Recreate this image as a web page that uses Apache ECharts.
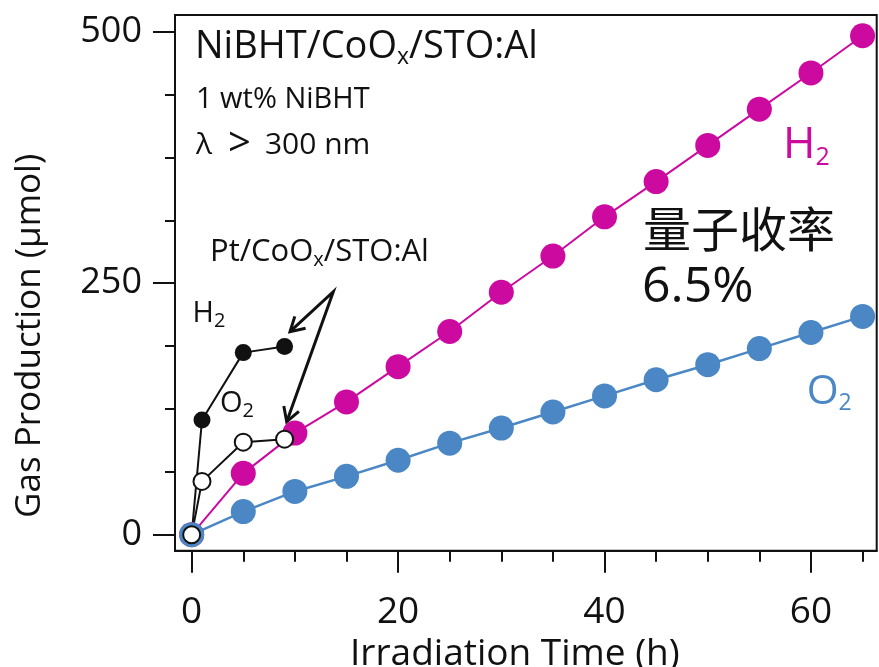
<!DOCTYPE html>
<html><head><meta charset="utf-8">
<script src="https://cdn.jsdelivr.net/npm/echarts@6/dist/echarts.min.js"></script>
<style>html,body{margin:0;padding:0;background:#fff}#c{width:879px;height:667px}</style>
</head><body><div id="c"></div>
<script>
// ---- data ----
const timeNi = [0, 5, 10, 15, 20, 25, 30, 35, 40, 45, 50, 55, 60, 65];
const h2Ni   = [0, 61, 101, 132, 167, 202, 241, 277, 316, 351, 387, 423, 459, 496];
const o2Ni   = [0, 23, 43, 58, 74, 91, 106, 122, 138, 154, 169, 185, 201, 217];
const timePt = [0, 1, 5, 9];
const h2Pt   = [0, 114, 181, 187];
const o2Pt   = [0, 53, 92, 95];
const xMajorTicks = [0, 20, 40, 60];
const xMinorTicks = [5, 10, 15, 25, 30, 35, 45, 50, 55, 65];
const yMajorTicks = [0, 250, 500];
const yMinorTicks = [62.5, 125, 187.5, 312.5, 375, 437.5];

const pairs = (xs, ys) => xs.map((x, i) => [x, ys[i]]);

const INK = '#111';
const MAG = '#cc0aa0';
const BLU = '#4a87c4';
const FONT = 'Open Sans';
const X_MIN = -1.615, X_MAX = 66.37, Y_MIN = -15.9, Y_MAX = 516.6;

const chart = echarts.init(document.getElementById('c'), null, {renderer: 'canvas'});
chart.setOption({
  animation: false,
  backgroundColor: '#fff',
  grid: {left: 175, right: 2.3, top: 15, bottom: 116.3, containLabel: false, outerBoundsMode: 'none',
         show: true, borderColor: INK, borderWidth: 2, backgroundColor: 'transparent'},
  xAxis: [{
    type: 'value', min: X_MIN, max: X_MAX, position: 'bottom',
    axisLine: {show: true, onZero: false, lineStyle: {color: INK, width: 2}},
    axisTick: {show: true, customValues: xMajorTicks, length: 22, lineStyle: {color: INK, width: 2}},
    axisLabel: {customValues: xMajorTicks, margin: 43, fontSize: 37, fontFamily: FONT, color: INK},
    splitLine: {show: false},
    name: 'Irradiation Time (h)', nameLocation: 'middle', nameGap: 76,
    nameTextStyle: {fontSize: 37, fontFamily: FONT, color: INK, padding: [0, 22, 0, 0]}
  }, {
    type: 'value', min: X_MIN, max: X_MAX, position: 'bottom',
    axisLine: {show: false, onZero: false},
    axisTick: {show: true, customValues: xMinorTicks, length: 11, lineStyle: {color: INK, width: 2}},
    axisLabel: {show: false}, splitLine: {show: false}
  }],
  yAxis: [{
    type: 'value', min: Y_MIN, max: Y_MAX, position: 'left',
    axisLine: {show: true, onZero: false, lineStyle: {color: INK, width: 2}},
    axisTick: {show: true, customValues: yMajorTicks, length: 22, lineStyle: {color: INK, width: 2}},
    axisLabel: {customValues: yMajorTicks, margin: 33, fontSize: 36, fontFamily: FONT, color: INK},
    splitLine: {show: false},
    name: 'Gas Production (μmol)', nameLocation: 'middle', nameGap: 127,
    nameTextStyle: {fontSize: 35, fontFamily: FONT, color: INK, padding: [0, 106, 0, 0]}
  }, {
    type: 'value', min: Y_MIN, max: Y_MAX, position: 'left',
    axisLine: {show: false, onZero: false},
    axisTick: {show: true, customValues: yMinorTicks, length: 10, lineStyle: {color: INK, width: 2}},
    axisLabel: {show: false}, splitLine: {show: false}
  }],
  series: [{
    name: 'H2 NiBHT', type: 'line', data: pairs(timeNi, h2Ni),
    symbol: 'circle', symbolSize: 25,
    lineStyle: {color: MAG, width: 2}, itemStyle: {color: MAG, borderWidth: 0}
  }, {
    name: 'O2 NiBHT', type: 'line', data: pairs(timeNi, o2Ni),
    symbol: 'circle', symbolSize: 25,
    lineStyle: {color: BLU, width: 2.5}, itemStyle: {color: BLU, borderWidth: 0}
  }, {
    name: 'H2 Pt', type: 'line', data: pairs(timePt, h2Pt),
    symbol: 'circle', symbolSize: 17,
    lineStyle: {color: INK, width: 2}, itemStyle: {color: INK, borderWidth: 0}
  }, {
    name: 'O2 Pt', type: 'line', data: pairs(timePt, o2Pt),
    symbol: 'circle', symbolSize: 17,
    lineStyle: {color: INK, width: 2}, itemStyle: {color: '#fff', borderColor: INK, borderWidth: 2}
  }],
  graphic: [
    {type: 'text', x: 195, y: 25, style: {
      text: 'NiBHT/CoO{sub|x}/STO:Al', fill: INK, fontSize: 38, fontFamily: FONT, lineHeight: 44,
      align: 'left', verticalAlign: 'top',
      rich: {sub: {fontSize: 23, fontFamily: FONT, fill: INK, lineHeight: 18, verticalAlign: 'bottom'}}}},
    {type: 'text', x: 196, y: 100, style: {text: '1 wt% NiBHT', fill: INK, fontSize: 29, fontFamily: FONT, align: 'left', verticalAlign: 'middle'}},
    {type: 'text', x: 196, y: 145, style: {
      text: 'λ{g|>}300 nm', fill: INK, fontSize: 30, fontFamily: FONT, align: 'left', verticalAlign: 'middle',
      rich: {g: {fontSize: 40, fontFamily: FONT, fill: INK, padding: [0, 14, 0, 16]}}}},
    {type: 'text', x: 210, y: 235, style: {
      text: 'Pt/CoO{sub|x}/STO:Al', fill: INK, fontSize: 31, fontFamily: FONT, lineHeight: 35,
      align: 'left', verticalAlign: 'top',
      rich: {sub: {fontSize: 20, fontFamily: FONT, fill: INK, lineHeight: 14, verticalAlign: 'bottom'}}}},
    {type: 'text', x: 192.5, y: 297, style: {
      text: 'H{sub|2}', fill: INK, fontSize: 29, fontFamily: FONT, lineHeight: 34,
      align: 'left', verticalAlign: 'top',
      rich: {sub: {fontSize: 20, fontFamily: FONT, fill: INK, lineHeight: 12, verticalAlign: 'bottom'}}}},
    {type: 'text', x: 220, y: 387, style: {
      text: 'O{sub|2}', fill: INK, fontSize: 29, fontFamily: FONT, lineHeight: 34,
      align: 'left', verticalAlign: 'top',
      rich: {sub: {fontSize: 20, fontFamily: FONT, fill: INK, lineHeight: 12, verticalAlign: 'bottom'}}}},
    {type: 'text', x: 783, y: 120, style: {
      text: 'H{sub|2}', fill: MAG, fontSize: 44, fontFamily: FONT, lineHeight: 50,
      align: 'left', verticalAlign: 'top',
      rich: {sub: {fontSize: 25, fontFamily: FONT, fill: MAG, lineHeight: 15, verticalAlign: 'bottom'}}}},
    {type: 'text', x: 806.7, y: 369, style: {
      text: 'O{sub|2}', fill: BLU, fontSize: 41, fontFamily: FONT, lineHeight: 46,
      align: 'left', verticalAlign: 'top',
      rich: {sub: {fontSize: 23, fontFamily: FONT, fill: BLU, lineHeight: 15, verticalAlign: 'bottom'}}}},
    {type: 'text', x: 643, y: 229, style: {text: '量子收率', fill: INK, fontSize: 48, fontFamily: 'Noto Sans CJK SC', align: 'left', verticalAlign: 'middle'}},
    {type: 'text', x: 642, y: 288, style: {text: '6.5%', fill: INK, fontSize: 50, fontFamily: FONT, align: 'left', verticalAlign: 'middle'}},
    {type: 'polyline', shape: {points: [[290, 331.7], [333.3, 291.7], [286.7, 421.7]]}, style: {stroke: INK, lineWidth: 3, fill: null}},
    {type: 'polyline', shape: {points: [[305.6, 328.2], [290, 331.7], [294.8, 316.4]]}, style: {stroke: INK, lineWidth: 3, fill: null}},
    {type: 'polyline', shape: {points: [[298.9, 411.3], [286.7, 421.7], [283.8, 405.9]]}, style: {stroke: INK, lineWidth: 3, fill: null}}
  ]
});
</script>
</body></html>
